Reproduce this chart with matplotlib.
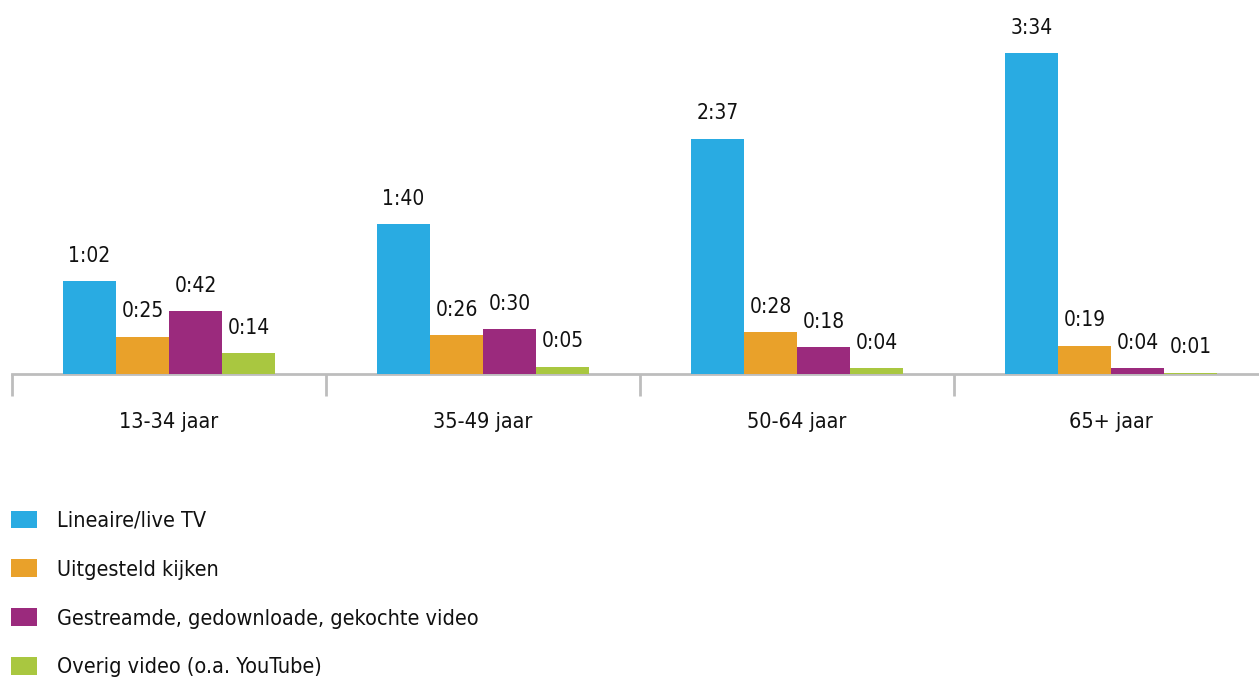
import matplotlib.pyplot as plt
import numpy as np
from matplotlib.patches import Patch

# Kijktijd per dag in minuten, per leeftijdsgroep
groepen = ["13-34 jaar", "35-49 jaar", "50-64 jaar", "65+ jaar"]
series = [
    "Lineaire/live TV",
    "Uitgesteld kijken",
    "Gestreamde, gedownloade, gekochte video",
    "Overig video (o.a. YouTube)",
]
lineair = [62, 100, 157, 214]
uitgesteld = [25, 26, 28, 19]
gestreamd = [42, 30, 18, 4]
overig = [14, 5, 4, 1]
kleuren = ["#29abe2", "#e9a12a", "#9b2a7d", "#a9c740"]

plt.rcParams["font.family"] = ["DejaVu Sans"]
plt.rcParams["font.stretch"] = "condensed"


def hhmm(minuten):
    return "%d:%02d" % (minuten // 60, minuten % 60)


W, H = 1259, 677
fig = plt.figure(figsize=(W / 100, H / 100), dpi=100)
ax = fig.add_axes([12 / W, (H - 374) / H, (W - 12) / W, 345 / H])

breedte = 0.169
x = np.arange(len(groepen)) + 0.5
for j, (waarden, kleur) in enumerate(zip([lineair, uitgesteld, gestreamd, overig], kleuren)):
    pos = x + (j - 1.5) * breedte
    ax.bar(pos, waarden, width=breedte, color=kleur, zorder=3)
    for px, v in zip(pos, waarden):
        ax.annotate(hhmm(v), (px, v), xytext=(0, 11), textcoords="offset points",
                    ha="center", va="bottom", fontsize=15, color="#111111",
                    annotation_clip=False)

for s in ["top", "right", "left"]:
    ax.spines[s].set_visible(False)
ax.spines["bottom"].set_color("#bdbdbd")
ax.spines["bottom"].set_linewidth(2)
ax.set_yticks([])

# scheidingsstreepjes tussen de groepen
ax.set_xticks(np.arange(len(groepen) + 1))
ax.tick_params(axis="x", which="major", length=16, width=2, color="#bdbdbd",
               labelbottom=False)
ax.set_xticks(x, minor=True)
ax.set_xticklabels(groepen, minor=True)
ax.tick_params(axis="x", which="minor", length=0, pad=27, labelsize=15.5,
               labelcolor="#111111")

ax.set_xlim(0, (W - 12) / 314)
ax.set_ylim(0, 230)

handles = [Patch(facecolor=k, edgecolor="none") for k in kleuren]
fig.legend(handles, series, loc="upper left", bbox_to_anchor=(2 / W, 1 - 502 / H),
           frameon=False, fontsize=15.5, handlelength=1.22, handleheight=0.88,
           handletextpad=0.95, labelspacing=1.33, borderaxespad=0,
           labelcolor="#111111")

fig.savefig("out.png", dpi=100)
